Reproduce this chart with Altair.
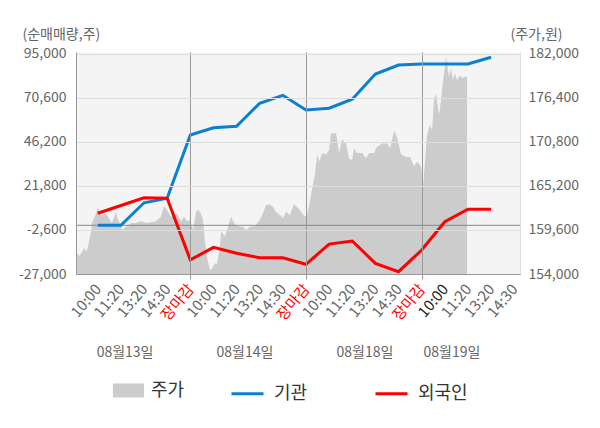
import json
import altair as alt
import pandas as pd

# ---------------- data ----------------
slot_labels = ["10:00", "11:20", "13:20", "14:30", "장마감",
               "10:00", "11:20", "13:20", "14:30", "장마감",
               "10:00", "11:20", "13:20", "14:30", "장마감",
               "10:00", "11:20", "13:20", "14:30"]
close_slots = [4, 9, 14]
highlight_slot = 15

date_labels = ["08월13일", "08월14일", "08월18일", "08월19일"]
date_label_pos = [1.18, 6.36, 11.55, 15.31]

# net buying (shares) at each labelled slot
inst_net = [0, 0, 12500, 15000, 50100, 54100, 54900, 67700, 72100,
            63900, 64900, 69900, 83900, 88900, 89500, 89500, 89500, 93200]
foreign_net = [6700, 11000, 15300, 15000, -19200, -12200, -15500, -18000, -18000,
               -21600, -10400, -8700, -21100, -25700, -13700, 2000, 8900, 8900]

# intraday share price (won), position in slot units
price_t = [-0.94, -0.81, -0.68, -0.60, -0.47, -0.38, -0.29, -0.25, -0.08, 0.01,
           0.10, 0.22, 0.35, 0.48, 0.61, 0.79, 0.87, 1.00, 1.05, 1.22,
           1.44, 1.65, 1.87, 2.08, 2.30, 2.52, 2.73, 2.86, 2.99, 3.16,
           3.29, 3.42, 3.60, 3.73, 3.86, 3.99,
           4.12, 4.25, 4.33, 4.46, 4.55, 4.63, 4.72, 4.85, 4.94, 5.07,
           5.15, 5.28, 5.33, 5.50, 5.63, 5.76, 5.85, 5.97, 6.15, 6.28,
           6.41, 6.58, 6.80, 7.01, 7.14, 7.27, 7.45, 7.57, 7.70, 7.88,
           8.01, 8.14, 8.31, 8.48, 8.66, 8.79, 8.96, 9.04,
           9.13, 9.26, 9.39, 9.48, 9.57, 9.70, 9.87, 10.00, 10.08, 10.30,
           10.43, 10.56, 10.73, 10.86, 10.99, 11.08, 11.21, 11.42, 11.60, 11.73,
           11.94, 12.07, 12.29, 12.51, 12.64, 12.81, 12.94, 13.11, 13.33, 13.50,
           13.67, 13.80, 13.98,
           14.06, 14.15, 14.23, 14.36, 14.45, 14.53, 14.62, 14.75, 14.84, 14.92,
           15.01, 15.05, 15.18, 15.27, 15.35, 15.44, 15.53, 15.66, 15.74, 15.86,
           15.96]
price = [156800, 156300, 156800, 157300, 156900, 158100, 159400, 160500, 161700, 162500,
         161700, 161500, 161700, 161100, 160500, 161900, 160900, 160200, 159600, 160000,
         160500, 160500, 160700, 160500, 160600, 160700, 161300, 162600, 162200, 161300,
         161500, 161700, 160700, 161300, 160700, 160900,
         159600, 161900, 162200, 161700, 160900, 158300, 156200, 154500, 154700, 155400,
         155200, 157500, 159400, 158800, 160000, 161300, 160700, 160200, 160000, 160000,
         159600, 160000, 160100, 160900, 161700, 162800, 162800, 162600, 161900, 161500,
         161100, 161900, 161500, 162900, 162400, 161900, 161300, 161500,
         162600, 164700, 166800, 169200, 168300, 169400, 169200, 169800, 171900, 171900,
         169400, 171100, 170600, 168700, 168500, 170000, 169400, 169400, 168700, 169400,
         169400, 170200, 170600, 170600, 170000, 172300, 171300, 169200, 168900, 168900,
         167700, 168300, 167700,
         165100, 168500, 171700, 173000, 172300, 176200, 177000, 174200, 176200, 178500,
         180400, 181700, 179100, 180200, 178700, 179500, 178700, 179300, 178900, 179100,
         179100]

net_ticks = [-27000, -2600, 21800, 46200, 70600, 95000]
price_ticks = [154000, 159600, 165200, 170800, 176400, 182000]

series_price = "주가"
series_inst = "기관"
series_foreign = "외국인"

# ---------------- frames ----------------
price_df = pd.DataFrame({"t": price_t, "price": price, "series": series_price})
lines_df = pd.concat([
    pd.DataFrame({"slot": list(range(len(inst_net))), "value": inst_net, "series": series_inst}),
    pd.DataFrame({"slot": list(range(len(foreign_net))), "value": foreign_net, "series": series_foreign}),
], ignore_index=True)
zero_df = pd.DataFrame({"z": [0]})
dates_df = pd.DataFrame({"pos": date_label_pos, "label": date_labels})

FONT = "Noto Sans CJK KR"
GRAY_TXT = "#666666"

labels_js = json.dumps(slot_labels, ensure_ascii=False)
close_test = " || ".join(f"datum.value == {s}" for s in close_slots)
comma_expr = "replace(format(datum.value, ','), '\u2212', '-')"

x_scale = alt.Scale(domain=[-0.94, 18.25], nice=False, zero=False)
x_axis = alt.Axis(
    values=list(range(len(slot_labels))),
    labelExpr=f"{labels_js}[datum.value]",
    labelAngle=-50, labelAlign="right", labelBaseline="middle",
    labelPadding=7, labelFontSize=15, labelOverlap=False, labelFlush=False,
    labelColor={"condition": [{"test": close_test, "value": "#ff0000"},
                              {"test": f"datum.value == {highlight_slot}", "value": "#222222"}],
                "value": GRAY_TXT},
    grid=True, gridColor="#999999",
    gridOpacity={"condition": {"test": close_test, "value": 1}, "value": 0},
    ticks=True, tickSize=5, tickColor="#999999",
    tickOpacity={"condition": {"test": close_test, "value": 1}, "value": 0},
    domainColor="#999999", title=None, zindex=1,
)

area = alt.Chart(price_df).mark_area(interpolate="linear").encode(
    x=alt.X("t:Q", scale=x_scale, axis=x_axis),
    y=alt.Y("price:Q",
            scale=alt.Scale(domain=[154000, 182250], nice=False, zero=False),
            axis=alt.Axis(orient="right", values=price_ticks, labelExpr=comma_expr,
                          grid=False, ticks=False, labelPadding=8,
                          labelFontSize=14, labelColor=GRAY_TXT,
                          domainColor="#dddddd",
                          title="(주가,원)", titleAngle=0, titleX=-10, titleY=-18,
                          titleAlign="left", titleBaseline="middle",
                          titleFontSize=14, titleFontWeight="normal", titleColor=GRAY_TXT)),
    y2=alt.datum(154000),
    fill=alt.Fill("series:N",
                  scale=alt.Scale(domain=[series_price], range=["#cccccc"]),
                  legend=alt.Legend(orient="none", legendX=38, legendY=324, title=None,
                                    symbolType="M-1.1,-0.5L1.1,-0.5L1.1,0.5L-1.1,0.5Z",
                                    symbolSize=800, symbolStrokeWidth=0,
                                    labelFontSize=18, labelColor="#333333",
                                    labelOffset=8)),
)

net_y_scale = alt.Scale(domain=[-27000, 96100], nice=False, zero=False)

zero_rule = alt.Chart(zero_df).mark_rule(color="#888888", strokeWidth=1).encode(
    y=alt.Y("z:Q", scale=net_y_scale)
)

lines = alt.Chart(lines_df).mark_line(strokeWidth=3).encode(
    x=alt.X("slot:Q", scale=x_scale, axis=x_axis),
    y=alt.Y("value:Q", scale=net_y_scale,
            axis=alt.Axis(orient="left", values=net_ticks, labelExpr=comma_expr,
                          grid=True, gridColor="#dddddd", ticks=False, labelPadding=10,
                          labelFontSize=14, labelColor=GRAY_TXT,
                          domainColor="#999999", zindex=1,
                          title="(순매매량,주)", titleAngle=0, titleX=-54, titleY=-18,
                          titleAlign="left", titleBaseline="middle",
                          titleFontSize=14, titleFontWeight="normal", titleColor=GRAY_TXT)),
    stroke=alt.Stroke("series:N",
                      scale=alt.Scale(domain=[series_inst, series_foreign],
                                      range=["#0a80d0", "#ff0000"]),
                      legend=alt.Legend(orient="none", legendX=154, legendY=324,
                                        direction="horizontal", title=None,
                                        symbolType="stroke", symbolSize=1024,
                                        symbolStrokeWidth=3, columnPadding=61,
                                        labelFontSize=18, labelColor="#333333",
                                        labelOffset=9)),
)

dates = alt.Chart(dates_df).mark_text(fontSize=14, color=GRAY_TXT, font=FONT,
                                      baseline="middle").encode(
    x=alt.X("pos:Q", scale=x_scale, axis=x_axis),
    y=alt.value(301),
    text="label:N",
)

inner = alt.layer(zero_rule, lines, dates)

chart = alt.layer(area, inner).resolve_scale(y="independent").properties(
    width=444, height=222,
    autosize=alt.AutoSizeParams(type="none"),
    padding={"left": 68, "top": 44, "right": 72, "bottom": 140},
).configure_view(
    fill="#f4f4f4", stroke="transparent"
).configure_axis(
    labelFont=FONT, titleFont=FONT
).configure_axisX(
    labelOverlap=False
).configure_legend(
    labelFont=FONT
).configure_text(font=FONT)

chart.save("out.html", embed_options={"renderer": "svg", "actions": False})
